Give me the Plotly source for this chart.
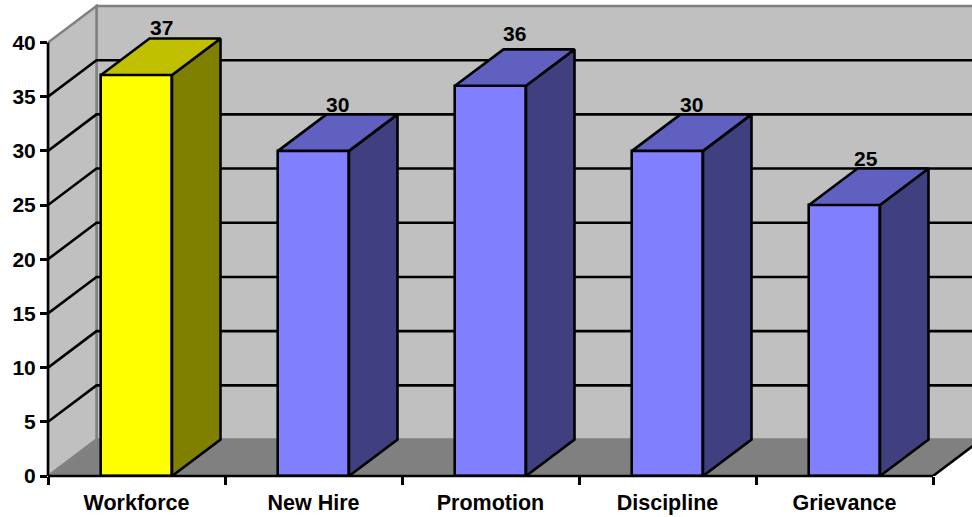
import plotly.graph_objects as go

categories = ["Workforce", "New Hire", "Promotion", "Discipline", "Grievance"]
values = [37, 30, 36, 30, 25]
front_colors = ["#ffff00", "#8080ff", "#8080ff", "#8080ff", "#8080ff"]
top_colors = ["#c0c000", "#6060c0", "#6060c0", "#6060c0", "#6060c0"]
side_colors = ["#808000", "#404080", "#404080", "#404080", "#404080"]
y_ticks = [0, 5, 10, 15, 20, 25, 30, 35, 40]

W, H = 972, 517
ML, MB = 48, 40.5
PX_X = 177.0          # pixels per category
PX_Y = 10.85          # pixels per value unit
DX = 48.5 / PX_X      # depth offset, category units
DY = 36.5 / PX_Y      # depth offset, value units
BAR_W = 71 / PX_X
FONT = dict(family="Liberation Sans, Arial, sans-serif", size=21, color="#000000", weight=700)
XFONT = dict(FONT, size=21.5)
LW = 2.6
N = len(categories)
X_MAX = (W - ML) / PX_X
Y_MAX = (H - MB) / PX_Y
YTOP = y_ticks[-1]
WALL = "#c0c0c0"
EDGE = "#808080"
# small per-label nudges (pixels) seen in the reference's data labels
label_nudge_x = [1, 0, 0, 0, -3]
label_nudge_y = [-1.5, -2.5, 3.5, -2.5, -2.5]

def path(points):
    return "M " + " L ".join(f"{x} {y}" for x, y in points) + " Z"

shapes = [
    dict(type="path", layer="below", xref="x", yref="y",
         path=path([(DX, DY), (DX, YTOP + DY), (X_MAX + 1, YTOP + DY), (X_MAX + 1, DY)]),
         fillcolor=WALL, line=dict(color=EDGE, width=2.5)),
    dict(type="path", layer="below", xref="x", yref="y",
         path=path([(0, 0), (0, YTOP), (DX, YTOP + DY), (DX, DY)]),
         fillcolor=WALL, line=dict(color=EDGE, width=2.5)),
    dict(type="path", layer="below", xref="x", yref="y",
         path=path([(0.012, 0), (DX + 0.012, DY), (N + DX, DY), (N, 0)]),
         fillcolor=EDGE, line=dict(color=EDGE, width=1)),
    dict(type="path", layer="below", xref="x", yref="y",
         path=f"M {N} 0 L {N + DX} {DY}",
         line=dict(color="#000000", width=LW)),
    # axis lines: paper refs keep them from being clipped at the plot edge
    dict(type="line", layer="above", xref="paper", yref="y", x0=0, x1=0, y0=0, y1=YTOP,
         line=dict(color="#000000", width=LW)),
    dict(type="line", layer="above", xref="x", yref="paper", x0=0, x1=N, y0=0, y1=0,
         line=dict(color="#000000", width=LW)),
]
for v in y_ticks[1:-1]:
    shapes.append(dict(type="path", layer="below", xref="x", yref="y",
                       path=f"M 0 {v} L {DX} {v + DY} L {X_MAX + 1} {v + DY}",
                       line=dict(color="#000000", width=LW)))

fig = go.Figure()
centers = [i + 0.5 for i in range(N)]

fig.add_trace(go.Bar(x=centers, y=values, width=BAR_W,
                     marker=dict(color=front_colors, line=dict(color="#000000", width=LW)),
                     hoverinfo="skip", showlegend=False))

for c, v, tc, sc in zip(centers, values, top_colors, side_colors):
    l, r = c - BAR_W / 2, c + BAR_W / 2
    fig.add_trace(go.Scatter(x=[r, r + DX, r + DX, r, r], y=[0, DY, v + DY, v, 0],
                             fill="toself", fillcolor=sc, mode="lines",
                             line=dict(color="#000000", width=LW),
                             hoverinfo="skip", showlegend=False))
    fig.add_trace(go.Scatter(x=[l, l + DX, r + DX, r, l], y=[v, v + DY, v + DY, v, v],
                             fill="toself", fillcolor=tc, mode="lines",
                             line=dict(color="#000000", width=LW),
                             hoverinfo="skip", showlegend=False))

fig.add_trace(go.Scatter(
    x=[c + DX / 2 + nx / PX_X for c, nx in zip(centers, label_nudge_x)],
    y=[v + DY + ny / PX_Y for v, ny in zip(values, label_nudge_y)],
    text=[str(v) for v in values], mode="text",
    textposition="top center", textfont=FONT, cliponaxis=False,
    hoverinfo="skip", showlegend=False))

fig.update_layout(
    width=W, height=H, autosize=False, bargap=0,
    margin=dict(l=ML, r=0, t=0, b=MB, pad=0),
    paper_bgcolor="#ffffff", plot_bgcolor="#ffffff",
    font=FONT, shapes=shapes, showlegend=False,
    xaxis=dict(range=[0, X_MAX], tickmode="array", tickvals=centers, ticktext=categories,
               ticks="", showgrid=False, zeroline=False, showline=False,
               tickfont=XFONT, ticklabelstandoff=11,
               minor=dict(tickmode="array", tickvals=list(range(N + 1)), ticks="outside",
                          ticklen=8, tickwidth=LW, tickcolor="#000000", showgrid=False)),
    yaxis=dict(range=[0, Y_MAX], tickmode="array", tickvals=y_ticks,
               ticks="outside", ticklen=7, tickwidth=LW, tickcolor="#000000",
               showgrid=False, zeroline=False, showline=False, tickfont=FONT),
)

fig.write_html("out.html", config=dict(displayModeBar=False),
               post_script="document.body.style.margin='0';document.documentElement.style.overflow='hidden';")
